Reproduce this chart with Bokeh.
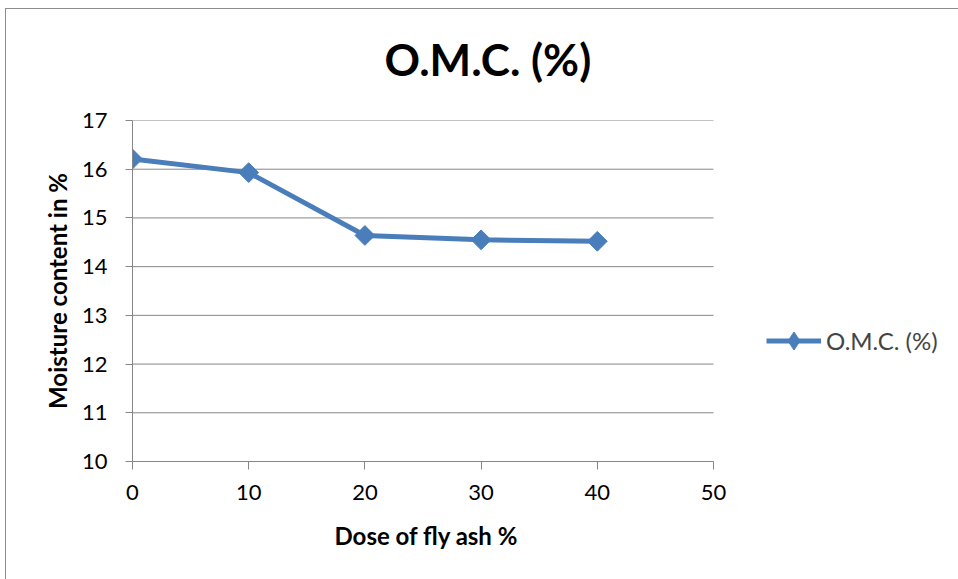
import numpy as np
from bokeh.plotting import figure
from bokeh.models import Range1d, FixedTicker, Legend, LegendItem, Title
from bokeh.embed import file_html
from bokeh.resources import INLINE

# Optimum moisture content against fly ash dose
dose = [0, 10, 20, 30, 40]
omc = [16.21, 15.93, 14.64, 14.55, 14.52]
x_ticks = [0, 10, 20, 30, 40, 50]
y_ticks = [10, 11, 12, 13, 14, 15, 16, 17]
series_name = "O.M.C. (%)"
chart_title = "O.M.C. (%)"
x_title = "Dose of fly ash %"
y_title = "Moisture content in %"

BLUE = "#4a7ebb"
GRAY = "#868686"
EDGE = "#8c8c8c"
FONT = "Lato"

X_LO, X_HI = x_ticks[0], x_ticks[-1]
PLOT_W = 581      # pixel width of the 0..50 axis
FRAME_W = 826     # frame runs on to the right edge so the legend has room
x_view_end = X_LO + (X_HI - X_LO) * FRAME_W / PLOT_W

SHIFT = 8         # figure is nudged up so the title panel fits
p = figure(
    width=958, height=579 + SHIFT,
    x_range=Range1d(X_LO, x_view_end), y_range=Range1d(y_ticks[0], y_ticks[-1]),
    output_backend="svg", toolbar_location=None,
    min_border_left=132, min_border_right=0,
    min_border_top=120 + SHIFT, min_border_bottom=118,
)
# chart-area edge lines (left and top) painted behind the transparent canvas
p.styles = {
    "margin-top": f"-{SHIFT}px",
    "background": (
        f"linear-gradient({EDGE},{EDGE}) 5px {8 + SHIFT}px / 1px 100% no-repeat, "
        f"linear-gradient({EDGE},{EDGE}) 5px {8 + SHIFT}px / 100% 1px no-repeat, "
        "#ffffff"
    ),
}
p.outline_line_color = None
p.background_fill_color = "white"
p.border_fill_color = None

# title
p.title.text = chart_title
p.title.text_font = FONT
p.title.text_font_style = "bold"
p.title.text_font_size = "44px"
p.title.text_color = "black"
p.title.align = "left"
p.title.offset = 252
p.title.standoff = 72

# axes
for ax in (p.xaxis[0], p.yaxis[0]):
    ax.axis_line_color = GRAY
    ax.major_tick_line_color = GRAY
    ax.minor_tick_line_color = None
    ax.major_tick_in = 0
    ax.major_label_text_font = FONT
    ax.major_label_text_font_size = "22px"
    ax.major_label_text_color = "black"

p.xaxis.ticker = FixedTicker(ticks=x_ticks)
p.yaxis.ticker = FixedTicker(ticks=y_ticks)
p.xaxis.bounds = (X_LO, X_HI)
p.xaxis.major_tick_out = 8
p.yaxis.major_tick_out = 7
p.xaxis.major_label_standoff = 15
p.yaxis.major_label_standoff = 18

p.yaxis.axis_label = y_title
p.yaxis.axis_label_text_font = FONT
p.yaxis.axis_label_text_font_style = "bold"
p.yaxis.axis_label_text_font_size = "24px"
p.yaxis.axis_label_text_color = "black"
p.yaxis.axis_label_standoff = 7

# x-axis title centred under the 0..50 span
p.add_layout(Title(
    text=x_title, align="left", offset=202, vertical_align="top",
    standoff=36, text_font=FONT, text_font_style="bold",
    text_font_size="24px", text_color="black",
), "below")

# horizontal gridlines only across the 0..50 span
p.xgrid.grid_line_color = None
p.ygrid.grid_line_color = None
n = len(y_ticks)
p.segment(x0=[X_LO] * n, x1=[X_HI] * n, y0=y_ticks, y1=y_ticks,
          line_color=GRAY, line_width=1)

# series
ln = p.line(dose, omc, line_width=5, color=BLUE)
p.scatter(dose, omc, marker="square", angle=np.pi / 4, size=14,
          fill_color=BLUE, line_color=BLUE)
# legend key marker (not placed on the plot)
key = p.scatter(x=[np.nan], y=[np.nan], marker="diamond",
                fill_color=BLUE, line_color=BLUE)

legend = Legend(
    items=[LegendItem(label=series_name, renderers=[ln, key])],
    location=(634, 98),
    padding=0, margin=0, spacing=0,
    glyph_width=55, glyph_height=45, label_height=45,
    label_standoff=5,
    label_text_font=FONT, label_text_font_size="24px",
    border_line_color=None, background_fill_alpha=0,
)
p.add_layout(legend)

open("out.html", "w").write(file_html(p, INLINE))
